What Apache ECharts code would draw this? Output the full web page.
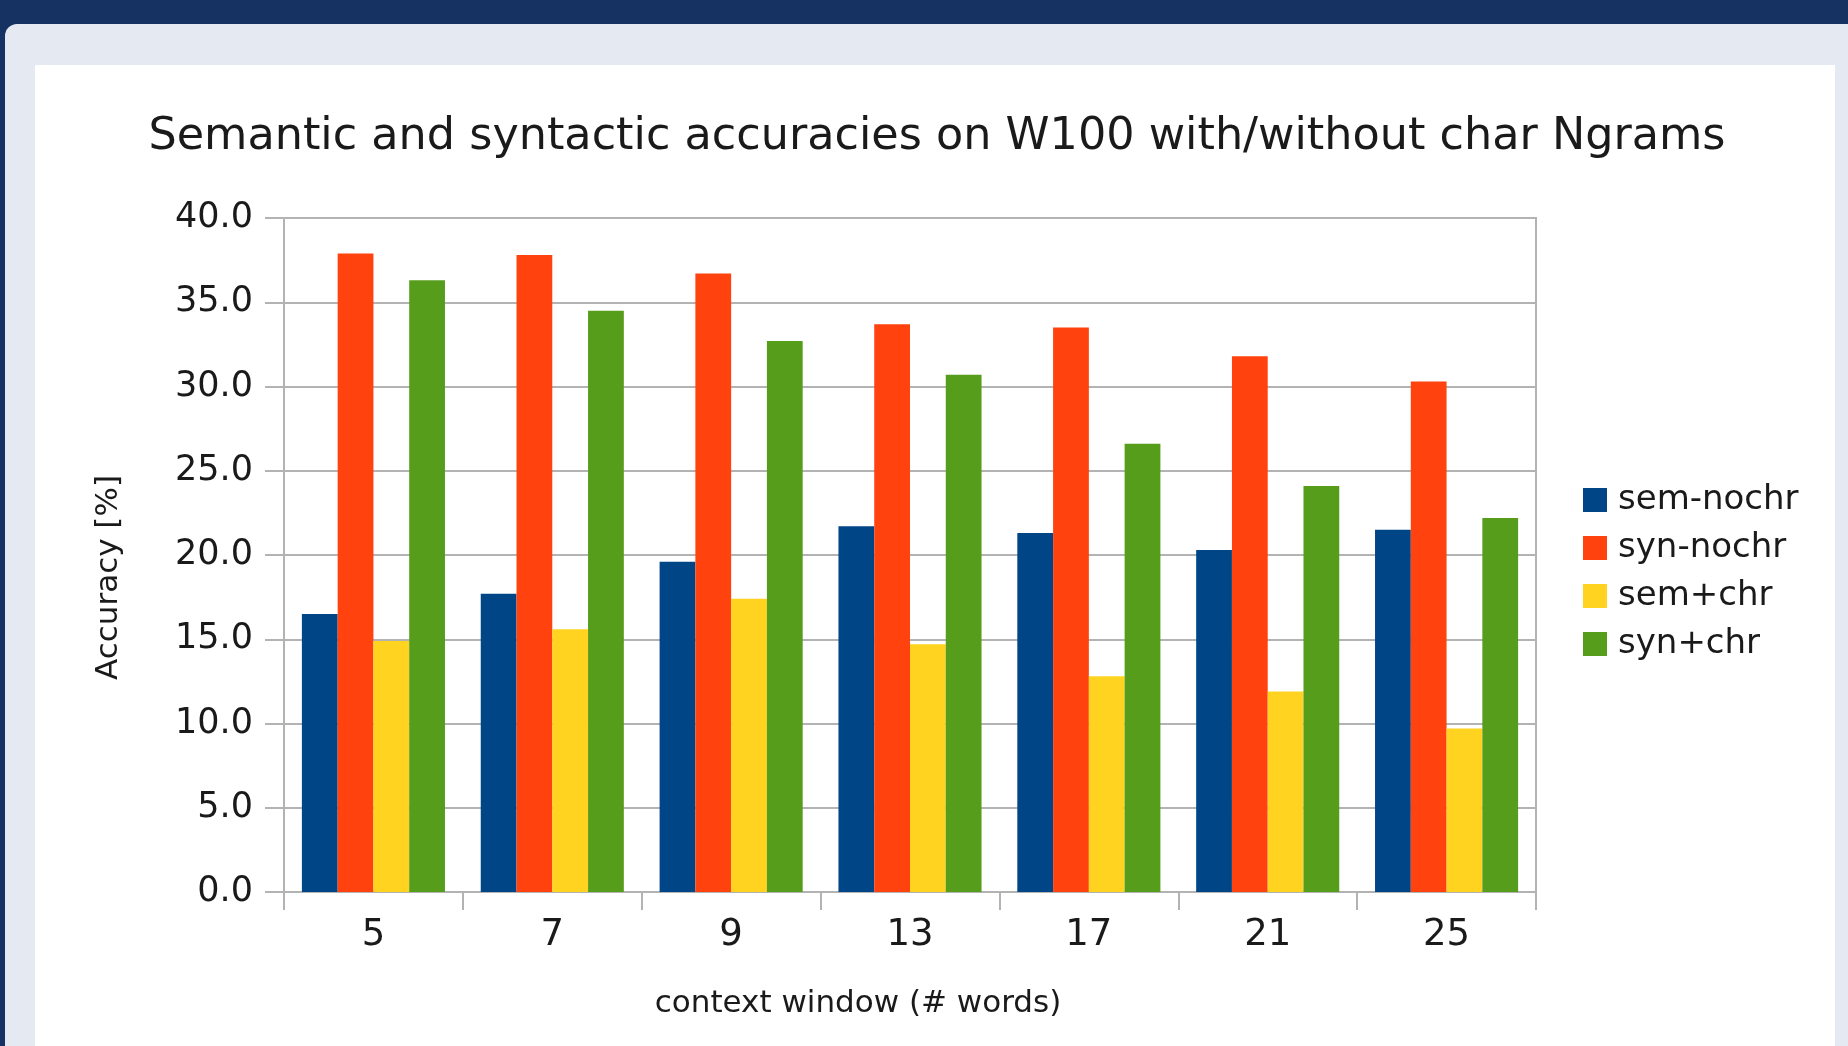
<!DOCTYPE html>
<html>
<head>
<meta charset="utf-8">
<title>Semantic and syntactic accuracies</title>
<script src="https://cdn.jsdelivr.net/npm/echarts@6/dist/echarts.min.js"></script>
<style>
  html, body { margin: 0; padding: 0; }
  body { width: 1848px; height: 1046px; background: #163263; position: relative; overflow: hidden; }
  #panel { position: absolute; left: 5px; top: 24px; right: 0; bottom: 0; background: #e5e9f2; border-top-left-radius: 12px; }
  #sheet { position: absolute; left: 35px; top: 65px; width: 1800px; bottom: 0; background: #ffffff; }
  #chart { position: absolute; left: 0; top: 0; width: 1848px; height: 1046px; }
</style>
</head>
<body>
<div id="panel"></div>
<div id="sheet"></div>
<div id="chart"></div>
<script>
// Context window sizes (x categories)
const windows = ['5', '7', '9', '13', '17', '21', '25'];

// Accuracy [%] per series
const semNochr = [16.5, 17.7, 19.6, 21.7, 21.3, 20.3, 21.5];
const synNochr = [37.9, 37.8, 36.7, 33.7, 33.5, 31.8, 30.3];
const semChr   = [14.9, 15.6, 17.4, 14.7, 12.8, 11.9, 9.7];
const synChr   = [36.3, 34.5, 32.7, 30.7, 26.6, 24.1, 22.2];

const seriesNames = ['sem-nochr', 'syn-nochr', 'sem+chr', 'syn+chr'];
const seriesData = [semNochr, synNochr, semChr, synChr];
const colors = ['#004586', '#ff420e', '#ffd320', '#579d1c'];

const FONT = 'DejaVu Sans';
const GRID_COLOR = '#b3b3b3';

const chart = echarts.init(document.getElementById('chart'), null, { renderer: 'canvas' });

chart.setOption({
  backgroundColor: 'transparent',
  animation: false,
  color: colors,
  title: {
    text: 'Semantic and syntactic accuracies on W100 with/without char Ngrams',
    left: 932,
    top: 110,
    textAlign: 'center',
    textStyle: { fontFamily: FONT, fontSize: 44.5, fontWeight: 'normal', color: '#1a1a1a' }
  },
  legend: {
    orient: 'vertical',
    left: 1578,
    top: 478,
    itemWidth: 24,
    itemHeight: 24,
    itemGap: 14,
    icon: 'rect',
    selectedMode: false,
    data: seriesNames,
    textStyle: { fontFamily: FONT, fontSize: 34, color: '#1a1a1a', lineHeight: 24, padding: [0, 0, 0, 6] }
  },
  grid: {
    left: 284,
    right: 312,
    top: 218,
    bottom: 154,
    show: true,
    borderColor: GRID_COLOR,
    borderWidth: 2
  },
  xAxis: {
    type: 'category',
    data: windows,
    boundaryGap: true,
    axisLine: { lineStyle: { color: GRID_COLOR, width: 2 } },
    axisTick: { show: true, length: 18, lineStyle: { color: GRID_COLOR, width: 2 } },
    axisLabel: { margin: 25, fontFamily: FONT, fontSize: 37, color: '#1a1a1a' },
    name: 'context window (# words)',
    nameLocation: 'middle',
    nameGap: 96,
    nameTextStyle: { fontFamily: FONT, fontSize: 31, color: '#1a1a1a', padding: [0, 104, 0, 0] }
  },
  yAxis: {
    type: 'value',
    min: 0,
    max: 40,
    interval: 5,
    axisLine: { show: true, lineStyle: { color: GRID_COLOR, width: 2 } },
    axisTick: { show: true, length: 19, lineStyle: { color: GRID_COLOR, width: 2 } },
    axisLabel: {
      margin: 31,
      fontFamily: FONT,
      fontSize: 35,
      color: '#1a1a1a',
      formatter: v => v.toFixed(1)
    },
    splitLine: { show: true, lineStyle: { color: GRID_COLOR, width: 2 } },
    name: 'Accuracy [%]',
    nameLocation: 'middle',
    nameRotate: 90,
    nameGap: 160,
    nameTextStyle: { fontFamily: FONT, fontSize: 31, color: '#1a1a1a', padding: [0, 45, 0, 0] }
  },
  series: seriesNames.map((name, i) => ({
    name: name,
    type: 'bar',
    data: seriesData[i],
    barGap: '0%',
    barCategoryGap: '20%',
    itemStyle: { color: colors[i] }
  }))
});
</script>
</body>
</html>
